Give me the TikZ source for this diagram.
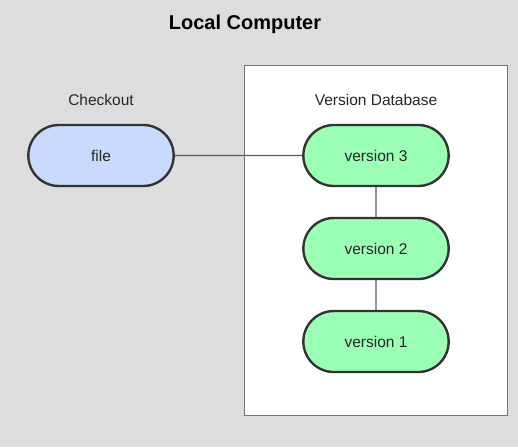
\documentclass[tikz,border=0pt]{standalone}
\usepackage{fontspec}
\setmainfont{Liberation Sans}
\usetikzlibrary{shapes.misc}
\definecolor{bgc}{RGB}{221,221,221}
\definecolor{filec}{RGB}{200,219,255}
\definecolor{verc}{RGB}{155,255,182}
\definecolor{edgec}{RGB}{51,51,51}
\definecolor{linec}{RGB}{90,90,90}
\tikzset{
  pill/.style={rounded rectangle, draw=edgec, line width=2.4pt, minimum width=152pt, minimum height=61pt, font=\fontsize{15.5}{18}\selectfont, text=black!85},
  lbl/.style={font=\fontsize{15.5}{18}\selectfont, text=black!85},
  conn/.style={draw=linec, line width=1.3pt}
}
\begin{document}
\begin{tikzpicture}[x=1pt,y=-1pt]
\fill[bgc] (0,0) rectangle (518,447);
\useasboundingbox (0,0) rectangle (518,447);
\node[font=\bfseries\fontsize{20}{24}\selectfont] (title) at (245,24) {Local Computer};
\node[draw=black!55, fill=white, line width=1.2pt, minimum width=263pt, minimum height=350pt, inner sep=0pt] (db) at (376,240.5) {};
\node[lbl] (checkout) at (101,100) {Checkout};
\node[lbl] (dblabel) at (376,100) {Version Database};
\node[pill, fill=filec] (file) at (101,155.5) {file};
\node[pill, fill=verc] (v3) at (376,155.5) {version 3};
\node[pill, fill=verc] (v2) at (376,248.5) {version 2};
\node[pill, fill=verc] (v1) at (376,341.5) {version 1};
\draw[conn] (file) -- (v3);
\draw[conn] (v3) -- (v2);
\draw[conn] (v2) -- (v1);
\end{tikzpicture}
\end{document}
